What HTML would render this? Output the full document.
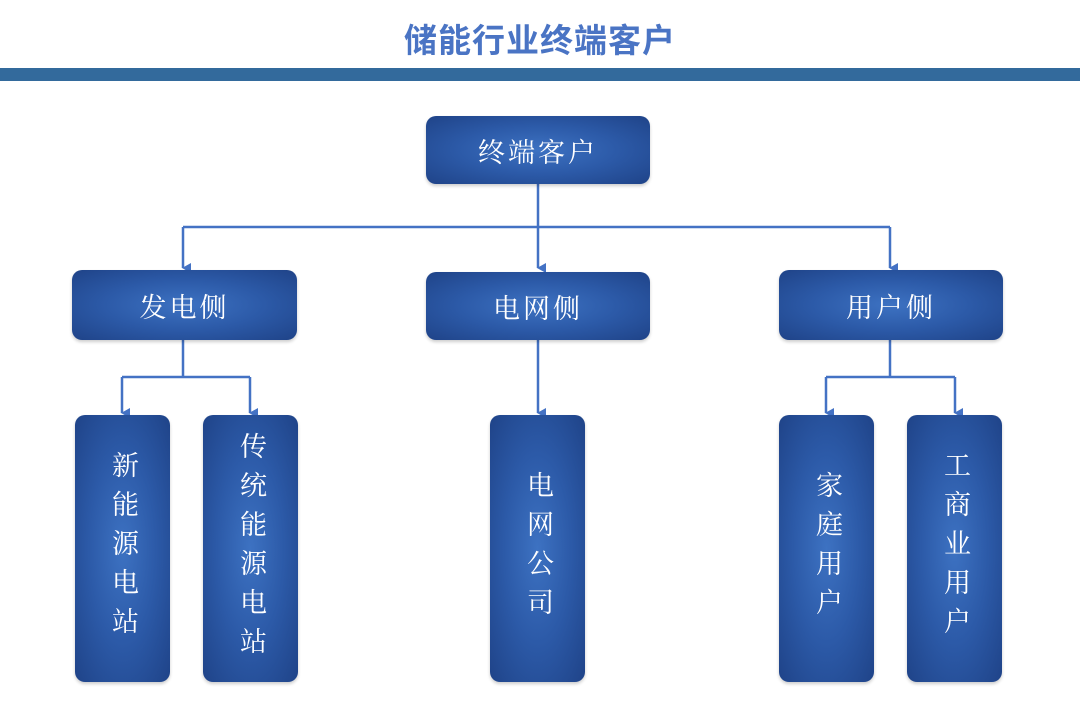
<!DOCTYPE html>
<html><head><meta charset="utf-8"><style>
body{margin:0;width:1080px;height:705px;background:#fff;position:relative;overflow:hidden;font-family:"Liberation Serif","Noto Serif CJK SC",serif}
.t{position:absolute;left:0;width:1080px;top:14px;text-align:center;font-size:33px;font-weight:bold;color:#4a74c4;font-family:"Liberation Sans","Noto Sans CJK SC",sans-serif;letter-spacing:1px}
.bar{position:absolute;left:0;top:68px;width:1080px;height:13px;background:#336a9c}
.b{position:absolute;border-radius:10px;background:radial-gradient(ellipse at center,#3d72c2 0%,#2c5aa8 50%,#1f4388 100%);color:#fff;display:flex;align-items:center;justify-content:center;font-size:27px;box-shadow:0 2px 3px rgba(0,0,0,.2)}
.v{writing-mode:vertical-rl;text-orientation:upright;letter-spacing:12px;line-height:1}
svg{position:absolute;left:0;top:0}
</style></head><body>
<div class="t">储能行业终端客户</div>
<div class="bar"></div>
<svg width="1080" height="705">
<defs><marker id="a" markerWidth="10" markerHeight="10" refX="5" refY="8" orient="auto" markerUnits="userSpaceOnUse"><path d="M0,0 L10,0 L5,9 Z" fill="#4472c4" transform="translate(0,0)"/></marker></defs>
<g stroke="#4472c4" stroke-width="2.5" fill="none">
<path d="M538 184 V227"/>
<path d="M183 227 H890"/>
<path d="M183 227 V268" marker-end="url(#a)"/>
<path d="M538 227 V268" marker-end="url(#a)"/>
<path d="M890 227 V268" marker-end="url(#a)"/>
<path d="M183 340 V377 M122 377 H250"/>
<path d="M122 377 V413" marker-end="url(#a)"/>
<path d="M250 377 V413" marker-end="url(#a)"/>
<path d="M538 340 V413" marker-end="url(#a)"/>
<path d="M890 340 V377 M826 377 H955"/>
<path d="M826 377 V413" marker-end="url(#a)"/>
<path d="M955 377 V413" marker-end="url(#a)"/>
</g></svg>
<div class="b" style="left:426px;top:116px;width:224px;height:68px;letter-spacing:3px">终端客户</div>
<div class="b" style="left:72px;top:270px;width:225px;height:70px;letter-spacing:3px">发电侧</div>
<div class="b" style="left:426px;top:272px;width:224px;height:68px;letter-spacing:3px">电网侧</div>
<div class="b" style="left:779px;top:270px;width:224px;height:70px;letter-spacing:3px">用户侧</div>
<div class="b" style="left:75px;top:415px;width:95px;height:267px"><span class="v">新能源电站</span></div>
<div class="b" style="left:203px;top:415px;width:95px;height:267px"><span class="v">传统能源电站</span></div>
<div class="b" style="left:490px;top:415px;width:95px;height:267px"><span class="v">电网公司</span></div>
<div class="b" style="left:779px;top:415px;width:95px;height:267px"><span class="v">家庭用户</span></div>
<div class="b" style="left:907px;top:415px;width:95px;height:267px"><span class="v">工商业用户</span></div>
</body></html>
